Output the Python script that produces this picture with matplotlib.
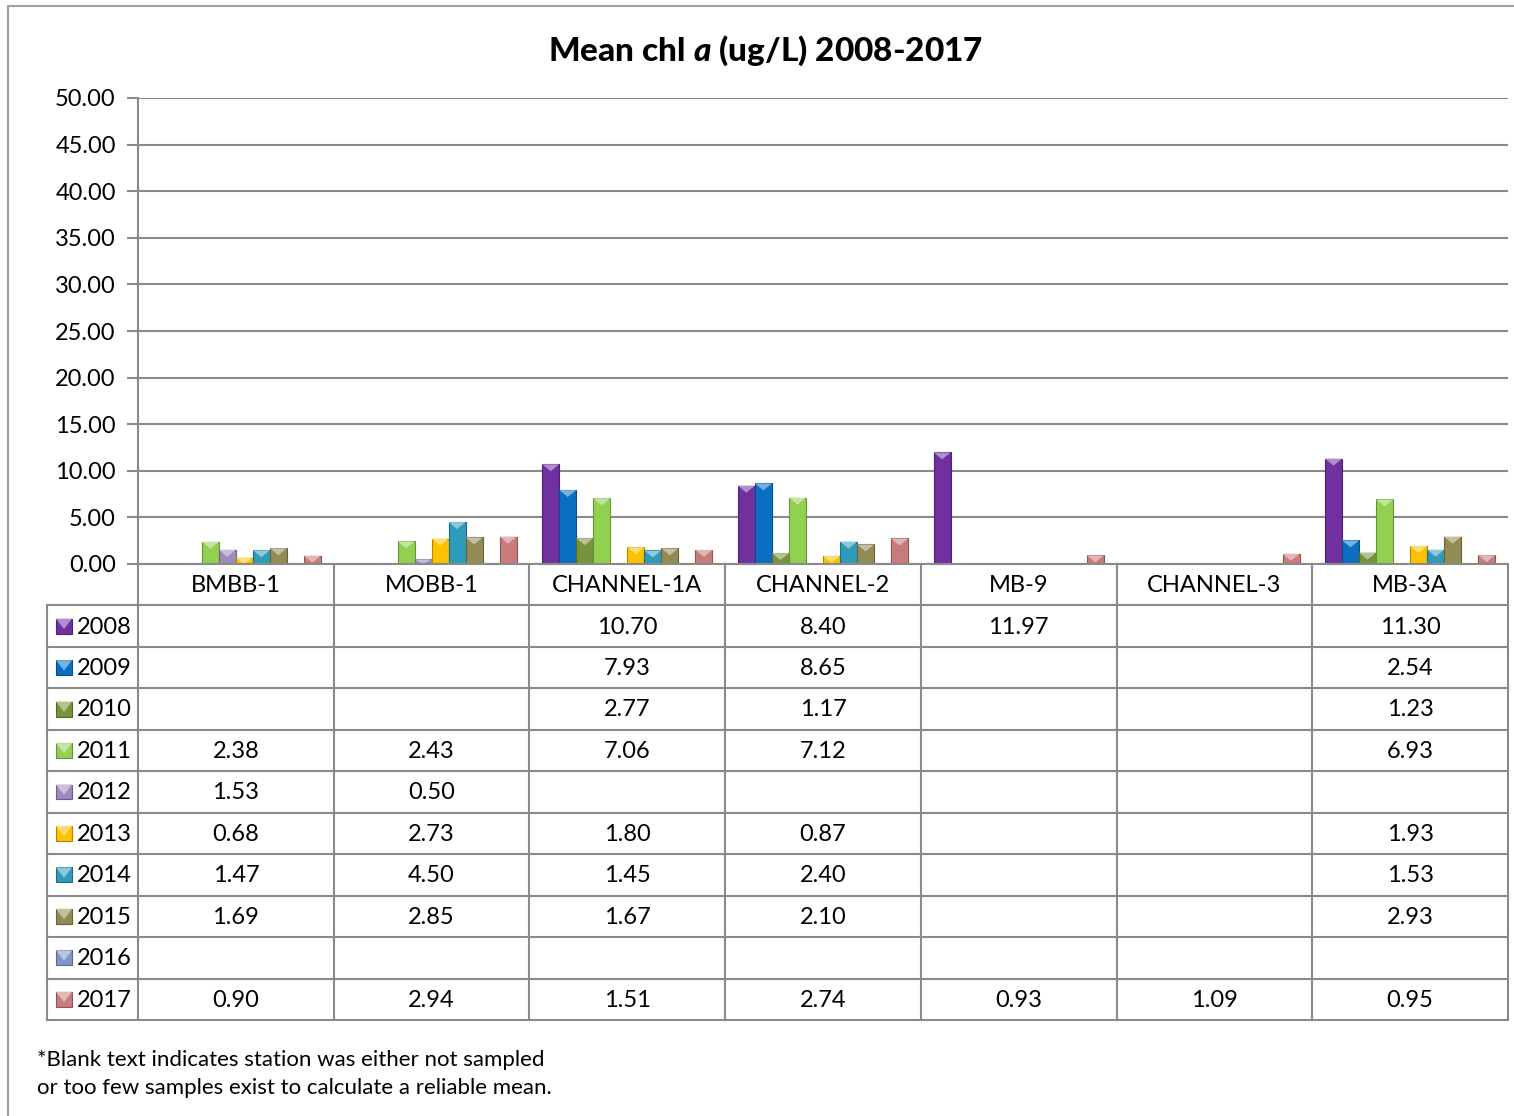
import numpy as np
import matplotlib.pyplot as plt
from matplotlib.patches import Rectangle, Polygon
from matplotlib.colors import to_rgb

plt.rcParams["font.family"] = ["Lato", "DejaVu Sans"]
plt.rcParams["mathtext.fontset"] = "custom"
plt.rcParams["mathtext.it"] = "Lato:italic:black"
plt.rcParams["mathtext.rm"] = "Lato:black"

# stations and yearly means (nan = not sampled / too few samples)
stations = ["BMBB-1", "MOBB-1", "CHANNEL-1A", "CHANNEL-2", "MB-9", "CHANNEL-3", "MB-3A"]
years = ["2008", "2009", "2010", "2011", "2012", "2013", "2014", "2015", "2016", "2017"]
nan = np.nan
v2008 = [nan, nan, 10.70, 8.40, 11.97, nan, 11.30]
v2009 = [nan, nan, 7.93, 8.65, nan, nan, 2.54]
v2010 = [nan, nan, 2.77, 1.17, nan, nan, 1.23]
v2011 = [2.38, 2.43, 7.06, 7.12, nan, nan, 6.93]
v2012 = [1.53, 0.50, nan, nan, nan, nan, nan]
v2013 = [0.68, 2.73, 1.80, 0.87, nan, nan, 1.93]
v2014 = [1.47, 4.50, 1.45, 2.40, nan, nan, 1.53]
v2015 = [1.69, 2.85, 1.67, 2.10, nan, nan, 2.93]
v2016 = [nan, nan, nan, nan, nan, nan, nan]
v2017 = [0.90, 2.94, 1.51, 2.74, 0.93, 1.09, 0.95]
values = [v2008, v2009, v2010, v2011, v2012, v2013, v2014, v2015, v2016, v2017]
colors = ["#7030A0", "#0A6FC0", "#77933C", "#92D050", "#9B8BBE",
          "#FFC000", "#2E9BBA", "#948A54", "#7F96C8", "#C97B7B"]
yticks = np.arange(0, 50.01, 5)

grid_c = "#8A8A8A"
fs = 17
W, H = 1514, 1116
fig = plt.figure(figsize=(W / 100, H / 100), dpi=100)

# outer chart frame
fig.add_artist(Rectangle((8 / W, -0.01), 1.1, 1 - 6 / H + 0.01, transform=fig.transFigure,
                         fill=False, edgecolor="#A0A0A0", lw=1.5))

left, right = 138 / W, 1508 / W
ax = fig.add_axes([left, 1 - 564 / H, right - left, (564 - 98) / H])
tab = fig.add_axes([left, 1 - 1020 / H, right - left, (1020 - 564) / H])


def shade(c, f):
    r = np.array(to_rgb(c))
    return tuple(np.clip(r + (1 - r) * f, 0, 1)) if f > 0 else tuple(r * (1 + f))


def bevel_bar(a, x, w, h, c, tri):
    a.add_patch(Rectangle((x, 0), w, h, facecolor=c, edgecolor=shade(c, -0.3), lw=0.8, zorder=3))
    th = min(tri, h)
    a.add_patch(Polygon([(x, h), (x + w, h), (x + w / 2, h - th)], closed=True,
                        facecolor=shade(c, 0.45), edgecolor="none", zorder=4))


nbar = len(years)
bw = 1 / (nbar + 1.5)
for j, (yr, vals, c) in enumerate(zip(years, values, colors)):
    for i, v in enumerate(vals):
        if np.isnan(v):
            continue
        bevel_bar(ax, i + 0.75 * bw + j * bw, bw, v, c, 0.75)

ax.set_xlim(0, len(stations))
ax.set_ylim(0, 50)
ax.set_yticks(yticks)
ax.set_yticklabels([f"{t:.2f}" for t in yticks], fontsize=fs)
ax.set_xticks([])
ax.tick_params(axis="y", length=8, width=1.5, color=grid_c, pad=8)
ax.yaxis.grid(True, color=grid_c, lw=1.5)
ax.set_axisbelow(True)
for s in ["top", "right", "bottom"]:
    ax.spines[s].set_visible(False)
ax.spines["left"].set_color(grid_c)
ax.spines["left"].set_linewidth(1.5)

# data table under the plot
nrow = len(years) + 1
tab.set_xlim(0, len(stations))
tab.set_ylim(nrow, 0)
tab.axis("off")
lc = -91 / 195.7
kw = dict(color=grid_c, lw=1.5, clip_on=False)
tab.plot([0, len(stations)], [0, 0], **kw)
for r in range(1, nrow + 1):
    tab.plot([lc, len(stations)], [r, r], **kw)
tab.plot([lc, lc], [1, nrow], **kw)
for i in range(len(stations) + 1):
    tab.plot([i, i], [0, nrow], **kw)

for i, s in enumerate(stations):
    tab.text(i + 0.5, 0.52, s, ha="center", va="center", fontsize=fs)

mw, mh = 16 / 195.7, 15 / 41.5
for j, (yr, vals, c) in enumerate(zip(years, values, colors)):
    y = j + 1.5
    mx = (56 - 138) / 195.7
    tab.add_patch(Rectangle((mx, y - mh / 2), mw, mh, facecolor=c, edgecolor=shade(c, -0.3),
                            lw=0.8, clip_on=False))
    tab.add_patch(Polygon([(mx, y - mh / 2), (mx + mw, y - mh / 2), (mx + mw / 2, y + 0.07)],
                          facecolor=shade(c, 0.45), edgecolor="none", clip_on=False))
    tab.text((77 - 138) / 195.7, y + 0.02, yr, ha="left", va="center", fontsize=fs)
    for i, v in enumerate(vals):
        if not np.isnan(v):
            tab.text(i + 0.5, y + 0.02, f"{v:.2f}", ha="center", va="center", fontsize=fs)

fig.text(766 / W, 1 - 51 / H, r"Mean chl $a$ (ug/L) 2008-2017", ha="center", va="center",
         fontsize=24, fontweight="black")
fig.text(37 / W, 1 - 1060 / H, "*Blank text indicates station was either not sampled",
         ha="left", va="center", fontsize=16)
fig.text(37 / W, 1 - 1088 / H, "or too few samples exist to calculate a reliable mean.",
         ha="left", va="center", fontsize=16)

fig.savefig("out.png", dpi=100, facecolor="white")
